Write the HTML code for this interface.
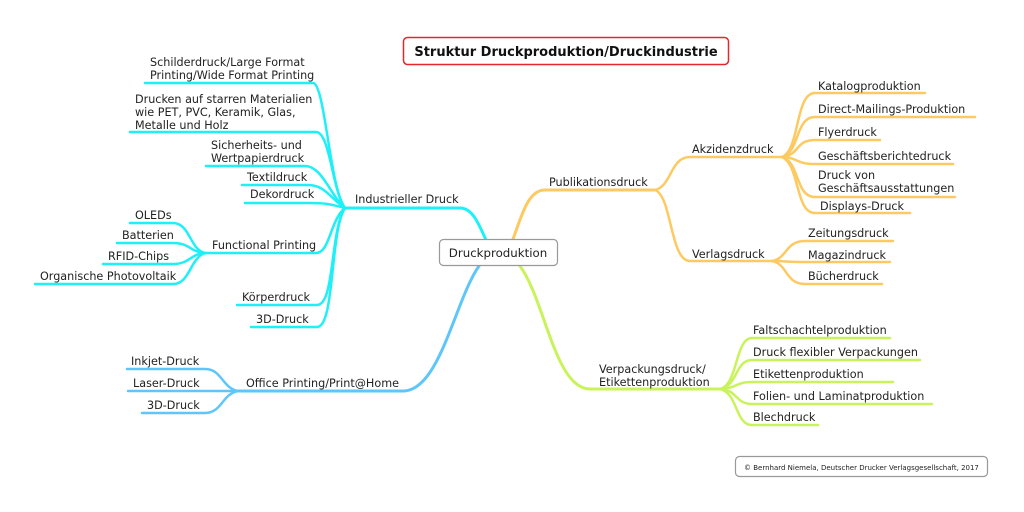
<!DOCTYPE html>
<html><head><meta charset="utf-8"><style>
html,body{margin:0;padding:0;background:#fff;width:1024px;height:512px;overflow:hidden}
svg{display:block}
text{font-family:"DejaVu Sans","Liberation Sans",sans-serif;font-size:11.2px;fill:#222}
.c{stroke:#1ef0f8}.b{stroke:#5ec6fb}.o{stroke:#fdca62}.g{stroke:#c9f35a}
path{fill:none;stroke-width:3;stroke-linecap:round}
.t{stroke-width:2.5}
</style></head><body>
<svg width="1024" height="512" viewBox="0 0 1024 512">
<rect x="403.5" y="37.5" width="325" height="27" rx="4" fill="#fff" stroke="#e8262a" stroke-width="1.5"/>
<text x="566" y="56" text-anchor="middle" style="font-weight:bold;font-size:13px;fill:#111">Struktur Druckproduktion/Druckindustrie</text>

<path class="c" d="M486 240 C478 222 472 208 460 208 H345"/>
<path class="c t" d="M345 208 C330 190 325 83 313 83 H145"/>
<path class="c t" d="M345 208 C332 190 330 132 316 132 H130"/>
<path class="c t" d="M345 208 C330 195 322 166 305 166 H206"/>
<path class="c t" d="M345 208 C330 198 325 185 308 185 H242"/>
<path class="c t" d="M345 208 C330 204 325 203 310 203 H245"/>
<path class="c t" d="M345 208 C330 220 330 253 316 253 H205"/>
<path class="c t" d="M345 208 C330 230 335 305 317 305 H237"/>
<path class="c t" d="M345 208 C330 230 335 327 317 327 H251"/>
<path class="c t" d="M205 253 C190 250 190 223 173 223 H130"/>
<path class="c t" d="M205 253 C190 252 190 243 173 243 H117"/>
<path class="c t" d="M205 253 C190 254 190 264 173 264 H103"/>
<path class="c t" d="M205 253 C190 258 190 284 173 284 H35"/>
<text x="150" y="66">Schilderdruck/Large Format</text>
<text x="150" y="79">Printing/Wide Format Printing</text>
<text x="135" y="103">Drucken auf starren Materialien</text>
<text x="135" y="116">wie PET, PVC, Keramik, Glas,</text>
<text x="135" y="129">Metalle und Holz</text>
<text x="211" y="149">Sicherheits- und</text>
<text x="211" y="162">Wertpapierdruck</text>
<text x="247" y="181">Textildruck</text>
<text x="250" y="198">Dekordruck</text>
<text x="355" y="203">Industrieller Druck</text>
<text x="212" y="249">Functional Printing</text>
<text x="135" y="219">OLEDs</text>
<text x="122" y="239">Batterien</text>
<text x="108" y="260">RFID-Chips</text>
<text x="40" y="280">Organische Photovoltaik</text>
<text x="242" y="301">Körperdruck</text>
<text x="256" y="323">3D-Druck</text>

<path class="b" d="M479 266 C455 300 440 391 403 391 H238"/>
<path class="b t" d="M238 391 C222 388 222 369 205 369 H127"/>
<path class="b t" d="M238 391 H128"/>
<path class="b t" d="M238 391 C222 394 222 413 205 413 H142"/>
<text x="246" y="387">Office Printing/Print@Home</text>
<text x="131" y="365">Inkjet-Druck</text>
<text x="133" y="387">Laser-Druck</text>
<text x="147" y="409">3D-Druck</text>

<path class="o" d="M513 239 C522 215 528 190 545 190 H655"/>
<path class="o t" d="M655 190 C672 186 670 157 690 157 H782"/>
<path class="o t" d="M655 190 C672 196 670 261 690 261 H772"/>
<path class="o t" d="M782 157 C800 150 795 93 815 93 H925"/>
<path class="o t" d="M782 157 C800 152 795 117 815 117 H975"/>
<path class="o t" d="M782 157 C800 155 795 140 815 140 H880"/>
<path class="o t" d="M782 157 C800 158 795 164 815 164 H953"/>
<path class="o t" d="M782 157 C800 162 795 197 815 197 H955"/>
<path class="o t" d="M782 157 C800 165 795 213 815 213 H910"/>
<path class="o t" d="M772 261 C788 258 785 241 805 241 H893"/>
<path class="o t" d="M772 261 C788 261 785 262 805 262 H890"/>
<path class="o t" d="M772 261 C788 264 785 284 805 284 H882"/>
<text x="549" y="186">Publikationsdruck</text>
<text x="692" y="153">Akzidenzdruck</text>
<text x="692" y="258">Verlagsdruck</text>
<text x="818" y="90">Katalogproduktion</text>
<text x="818" y="113">Direct-Mailings-Produktion</text>
<text x="818" y="136">Flyerdruck</text>
<text x="818" y="160">Geschäftsberichtedruck</text>
<text x="818" y="179">Druck von</text>
<text x="818" y="192">Geschäftsausstattungen</text>
<text x="820" y="210">Displays-Druck</text>
<text x="808" y="237">Zeitungsdruck</text>
<text x="808" y="259">Magazindruck</text>
<text x="808" y="280">Bücherdruck</text>

<path class="g" d="M520 266 C545 300 555 389 590 389 H720"/>
<path class="g t" d="M720 389 C738 385 735 338 752 338 H890"/>
<path class="g t" d="M720 389 C738 386 735 360 752 360 H920"/>
<path class="g t" d="M720 389 C738 388 735 382 752 382 H893"/>
<path class="g t" d="M720 389 C738 390 735 404 752 404 H932"/>
<path class="g t" d="M720 389 C738 393 735 425 752 425 H818"/>
<text x="599" y="373">Verpackungsdruck/</text>
<text x="599" y="386">Etikettenproduktion</text>
<text x="753" y="334">Faltschachtelproduktion</text>
<text x="753" y="356">Druck flexibler Verpackungen</text>
<text x="753" y="378">Etikettenproduktion</text>
<text x="753" y="400">Folien- und Laminatproduktion</text>
<text x="753" y="421">Blechdruck</text>

<rect x="439.5" y="239.5" width="118" height="26" rx="4" fill="#fff" stroke="#999" stroke-width="1.2"/>
<text x="498" y="257" text-anchor="middle" style="font-size:11.8px">Druckproduktion</text>

<rect x="735.5" y="456.5" width="252" height="20" rx="4" fill="#fff" stroke="#999" stroke-width="1.2"/>
<text x="744" y="470" style="font-size:7px">© Bernhard Niemela, Deutscher Drucker Verlagsgesellschaft, 2017</text>
</svg>
</body></html>
